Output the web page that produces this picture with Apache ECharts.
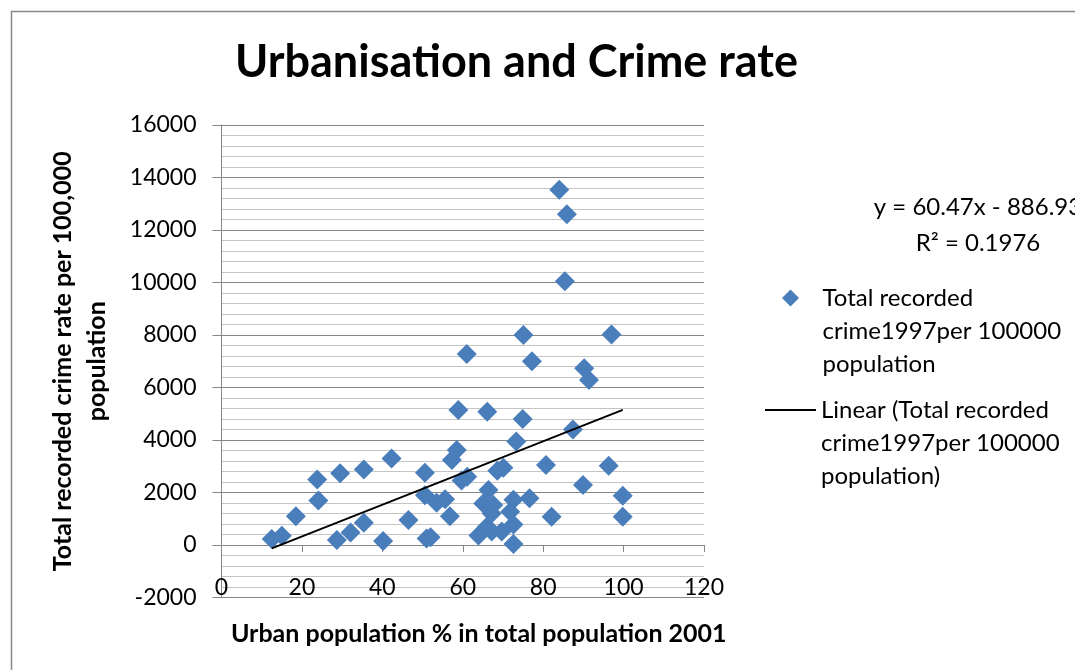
<!DOCTYPE html>
<html>
<head>
<meta charset="utf-8">
<title>Urbanisation and Crime rate</title>
<script src="https://cdn.jsdelivr.net/npm/echarts@6/dist/echarts.min.js"></script>
<style>
html,body{margin:0;padding:0;background:#fff}
#main{width:1075px;height:670px}
</style>
</head>
<body>
<div id="main"></div>
<script>
// urban population % (2001) per region
var urbanPct = [12.5, 15.0, 18.5, 23.8, 24.1, 28.7, 29.5, 32.1, 35.4, 35.4,
    40.2, 42.3, 46.5, 50.6, 50.6, 51.0, 52.0, 53.5, 55.6, 56.8,
    57.3, 58.5, 58.9, 59.7, 61.0, 61.1, 63.9, 65.1, 66.0, 66.1,
    66.4, 67.2, 67.2, 67.6, 68.6, 69.7, 70.1, 71.8, 72.6, 72.6,
    72.6, 73.3, 74.9, 75.1, 76.6, 77.2, 80.7, 82.1, 84.0, 85.4,
    85.9, 87.4, 89.9, 90.2, 91.4, 96.3, 97.0, 99.8, 99.8];
// total recorded crime 1997 per 100000 population
var crimeRate = [230, 350, 1100, 2500, 1700, 190, 2730, 480, 2880, 850,
    150, 3300, 950, 2750, 1900, 250, 300, 1610, 1740, 1100,
    3240, 3620, 5140, 2460, 7280, 2600, 360, 1580, 700, 5080,
    2100, 1200, 510, 1520, 2830, 510, 2940, 1270, 1720, 780,
    40, 3940, 4800, 8000, 1780, 7000, 3050, 1080, 13530, 10050,
    12600, 4400, 2290, 6730, 6290, 3020, 8020, 1880, 1080];

// trendline as printed on the chart
var trendSlope = 60.47;
var trendIntercept = -886.93;
var trendLabel = ['y = 60.47x - 886.93', 'R\u00b2 = 0.1976'];

var xRange = [0, 120, 20];      // min, max, step
var yRange = [-2000, 16000, 2000];

var scatterName = 'Total recorded crime1997per 100000 population';
var lineName = 'Linear (Total recorded crime1997per 100000 population)';
// two empty lines up front so the icon sits level with the first text line
var scatterLegend = '\n\nTotal recorded\ncrime1997per 100000\npopulation';
var lineLegend = '\n\nLinear (Total recorded\ncrime1997per 100000\npopulation)';

var points = [];
for (var i = 0; i < urbanPct.length; i++) {
    points.push([urbanPct[i], crimeRate[i]]);
}
var xLo = Math.min.apply(null, urbanPct), xHi = Math.max.apply(null, urbanPct);
var trend = [[xLo, trendSlope * xLo + trendIntercept], [xHi, trendSlope * xHi + trendIntercept]];

var font = 'Lato, "Open Sans", sans-serif';
var gray = '#868686';
var legendText = {fontSize: 24, lineHeight: 33, color: '#000', fontFamily: font};

var chart = echarts.init(document.getElementById('main'));
var option = {
    animation: false,
    textStyle: {fontFamily: font},
    title: {
        text: 'Urbanisation and Crime rate',
        left: 230,
        top: 35,
        textStyle: {fontSize: 45, fontWeight: 'bold', color: '#000', fontFamily: font}
    },
    grid: {left: 221.5, top: 125, right: 371, bottom: 72.5, containLabel: false},
    legend: [{
        data: [{name: scatterName, icon: 'path://M8,0L16,8L8,16L0,8Z'}],
        formatter: function () { return scatterLegend; },
        left: 782, top: 215.5,
        padding: 0,
        itemWidth: 54, itemHeight: 17,
        symbolKeepAspect: true,
        selectedMode: false,
        textStyle: legendText
    }, {
        data: [{name: lineName, icon: 'rect'}],
        formatter: function () { return lineLegend; },
        left: 765, top: 327.5,
        padding: 0,
        itemWidth: 51, itemHeight: 2,
        symbolKeepAspect: false,
        selectedMode: false,
        textStyle: legendText
    }],
    xAxis: [{
        type: 'value',
        min: xRange[0], max: xRange[1], interval: xRange[2],
        axisLine: {onZero: true, lineStyle: {color: gray, width: 1}},
        axisTick: {show: true, length: 7, lineStyle: {color: gray}},
        axisLabel: {show: false},
        splitLine: {show: false}
    }, {
        type: 'value',
        position: 'bottom',
        min: xRange[0], max: xRange[1], interval: xRange[2],
        axisLine: {show: false, onZero: false},
        axisTick: {show: false},
        axisLabel: {fontSize: 23, color: '#000', margin: -10, verticalAlign: 'middle', fontFamily: font},
        splitLine: {show: false},
        name: 'Urban population % in total population 2001',
        nameLocation: 'middle',
        nameGap: 24,
        nameTextStyle: {fontSize: 25, fontWeight: 'bold', color: '#000', fontFamily: font, padding: [0, 0, 0, 32]}
    }],
    yAxis: {
        type: 'value',
        min: yRange[0], max: yRange[1], interval: yRange[2],
        axisLine: {show: true, onZero: false, lineStyle: {color: gray, width: 1}},
        axisTick: {show: true, length: 9, lineStyle: {color: gray}},
        axisLabel: {
            fontSize: 23, color: '#000', margin: 25, fontFamily: font,
            formatter: function (v) { return String(v); }
        },
        splitLine: {show: true, lineStyle: {color: gray, width: 1}},
        minorTick: {show: false, splitNumber: 5},
        minorSplitLine: {show: true, lineStyle: {color: '#c4c4c4', width: 1}},
        name: 'Total recorded crime rate per 100,000\npopulation',
        nameLocation: 'middle',
        nameGap: 108,
        nameTextStyle: {fontSize: 25, fontWeight: 'bold', color: '#000', lineHeight: 34, fontFamily: font}
    },
    series: [{
        name: scatterName,
        type: 'scatter',
        symbol: 'diamond',
        symbolSize: 20,
        itemStyle: {color: '#4a7ebb', opacity: 1},
        data: points,
        z: 3
    }, {
        name: lineName,
        type: 'line',
        data: trend,
        symbol: 'none',
        showSymbol: false,
        lineStyle: {color: '#000', width: 2},
        itemStyle: {color: '#000'},
        z: 4
    }],
    graphic: [{
        type: 'rect',
        shape: {x: 11.5, y: 11.5, width: 1200, height: 800},
        style: {fill: null, stroke: '#898989', lineWidth: 1.5},
        silent: true
    }, {
        type: 'text',
        x: 978, y: 207,
        style: {text: trendLabel[0], fontSize: 24, fill: '#000', align: 'center', verticalAlign: 'middle', fontFamily: font}
    }, {
        type: 'text',
        x: 978, y: 243,
        style: {text: trendLabel[1], fontSize: 24, fill: '#000', align: 'center', verticalAlign: 'middle', fontFamily: font}
    }]
};
chart.setOption(option);
</script>
</body>
</html>
